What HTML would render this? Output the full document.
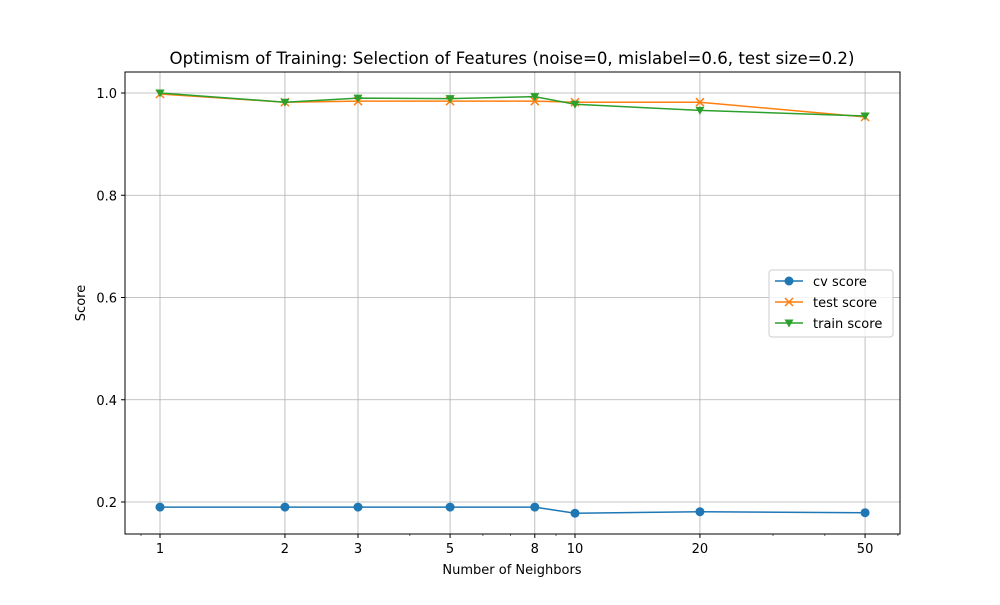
<!DOCTYPE html>
<html><head><meta charset="utf-8"><style>
body{margin:0;background:#fff;font-family:"Liberation Sans","DejaVu Sans",sans-serif}
</style></head><body>
<svg width="1000" height="600" xmlns="http://www.w3.org/2000/svg" font-family="DejaVu Sans, Liberation Sans, sans-serif">
<rect width="1000" height="600" fill="#fff"/>
<g id="grid"></g>
<g id="series"></g>
<rect x="125" y="72" width="775" height="462" fill="none" stroke="#000" stroke-width="1"/>
<g id="ticks"></g>
<text x="512" y="64" text-anchor="middle" font-size="16.6">Optimism of Training: Selection of Features (noise=0, mislabel=0.6, test size=0.2)</text>
<text x="512" y="574" text-anchor="middle" font-size="13">Number of Neighbors</text>
<text transform="translate(85,303) rotate(-90)" text-anchor="middle" font-size="13">Score</text>
<g>
<rect x="769" y="270" width="124" height="67" fill="#fff" fill-opacity="0.8" stroke="#ccc" rx="3"/>
<g><line x1="775" y1="281" x2="803" y2="281" stroke="#1f77b4" stroke-width="1.5"/><circle cx="789" cy="281" r="4.5" fill="#1f77b4"/><text x="813" y="286" font-size="13">cv score</text></g>
<g><line x1="775" y1="302" x2="803" y2="302" stroke="#ff7f0e" stroke-width="1.5"/><path d="M785,298l8,8M793,298l-8,8" stroke="#ff7f0e" stroke-width="1.5"/><text x="813" y="307" font-size="13">test score</text></g>
<g><line x1="775" y1="323" x2="803" y2="323" stroke="#2ca02c" stroke-width="1.5"/><path d="M784.5,319.5h9l-4.5,8z" fill="#2ca02c"/><text x="813" y="328" font-size="13">train score</text></g>
</g>
</svg>
<script>
const neighbors=[1,2,3,5,8,10,20,50];
const cvScores=[0.19,0.19,0.19,0.19,0.19,0.178,0.181,0.179];
const testScores=[0.998,0.982,0.984,0.984,0.984,0.982,0.982,0.953];
const trainScores=[1.0,0.982,0.990,0.989,0.993,0.978,0.966,0.955];
const yTicks=[0.2,0.4,0.6,0.8,1.0];
const minorTicks=[0.9,4,6,7,9,30,40,60];
const NS="http://www.w3.org/2000/svg";
const X=v=>160+415*Math.log10(v);
const Y=v=>93+(1.0-v)*511.25;
function mk(t,a,p){const e=document.createElementNS(NS,t);for(const k in a)e.setAttribute(k,a[k]);p.appendChild(e);return e;}
const g=document.getElementById('grid'),tk=document.getElementById('ticks'),s=document.getElementById('series');
neighbors.forEach(n=>{const x=X(n);
const l=mk('line',{x1:x,x2:x,y1:72,y2:534,stroke:'#b0b0b0','stroke-width':0.8},g);


mk('line',{x1:x,x2:x,y1:534,y2:538,stroke:'#000'},tk);
const t=mk('text',{x:x,y:553,'text-anchor':'middle','font-size':13},tk);t.textContent=n;

});
minorTicks.forEach(n=>{const x=X(n);if(x>=125&&x<=900)mk('line',{x1:x,x2:x,y1:534,y2:536,stroke:'#000','stroke-width':0.6},tk);});
yTicks.forEach(v=>{const y=Y(v);
const l=mk('line',{x1:125,x2:900,y1:y,y2:y,stroke:'#b0b0b0','stroke-width':0.8},g);


mk('line',{x1:121,x2:125,y1:y,y2:y,stroke:'#000'},tk);
const t=mk('text',{x:117,y:y+5,'text-anchor':'end','font-size':13},tk);t.textContent=v.toFixed(1);

});
function series(vals,color,marker,name){
const pts=neighbors.map((n,i)=>X(n)+','+Y(vals[i])).join(' ');
const pl=mk('polyline',{points:pts,fill:'none',stroke:color,'stroke-width':1.5},s);


neighbors.forEach((n,i)=>{const x=X(n),y=Y(vals[i]);let m;
if(marker==='o')m=mk('circle',{cx:x,cy:y,r:4.5,fill:color},s);
else if(marker==='x')m=mk('path',{d:`M${x-4},${y-4}l8,8M${x+4},${y-4}l-8,8`,stroke:color,'stroke-width':1.5},s);
else m=mk('path',{d:`M${x-4.5},${y-3.5}h9l-4.5,8z`,fill:color},s);

});}
series(cvScores,'#1f77b4','o','cv-score');
series(testScores,'#ff7f0e','x','test-score');
series(trainScores,'#2ca02c','v','train-score');
</script>
</body></html>
